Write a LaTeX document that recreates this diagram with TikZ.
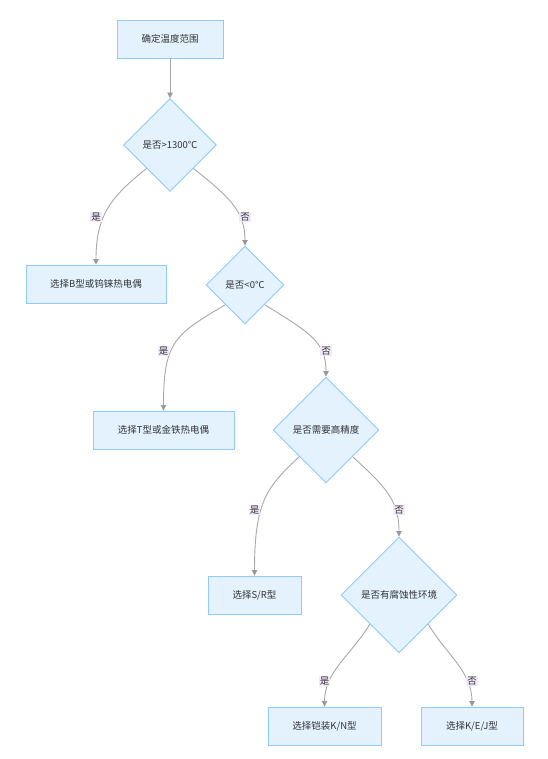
\documentclass[tikz,border=0pt]{standalone}
\usepackage{fontspec}
\setmainfont{Noto Sans CJK SC}
\usetikzlibrary{shapes.geometric,arrows.meta}
\definecolor{boxfill}{HTML}{E3F2FD}
\definecolor{boxline}{HTML}{90CAF9}
\definecolor{edgegray}{HTML}{A8A8A8}
\definecolor{tipgray}{HTML}{999999}
\definecolor{lblfill}{HTML}{F1E9FA}
\definecolor{txt}{HTML}{333333}
\begin{document}
\begin{tikzpicture}[x=1pt,y=-1pt,
  every node/.style={font=\fontsize{9.5}{11}\selectfont, text=txt},
  procbox/.style={rectangle, draw=boxline, fill=boxfill, line width=0.9pt, minimum height=38pt, inner sep=2pt},
  decision/.style={diamond, draw=boxline, fill=boxfill, line width=0.9pt, aspect=1, inner sep=1pt},
  edge/.style={draw=edgegray, line width=0.9pt, -{Triangle[width=5.5pt,length=5.5pt,fill=tipgray,color=tipgray]}},
  elabel/.style={fill=lblfill, inner sep=1pt}
]
\useasboundingbox (0,0) rectangle (547,759);
\fill[white] (0,0) rectangle (547,759);

\node[procbox, minimum width=106pt] (b0) at (170,39) {确定温度范围};
\node[decision, minimum size=93pt] (d1) at (170,145) {是否>1300℃};
\node[procbox, minimum width=140pt] (bB) at (96,284) {选择B型或钨铼热电偶};
\node[decision, minimum size=78pt] (d2) at (245,285) {是否<0℃};
\node[procbox, minimum width=141pt] (bT) at (163.5,430) {选择T型或金铁热电偶};
\node[decision, minimum size=106pt] (d3) at (326,430) {是否需要高精度};
\node[procbox, minimum width=93pt] (bSR) at (254.5,595) {选择S/R型};
\node[decision, minimum size=116pt] (d4) at (399,595) {是否有腐蚀性环境};
\node[procbox, minimum width=113pt] (bKN) at (324.5,726) {选择铠装K/N型};
\node[procbox, minimum width=102pt] (bKEJ) at (472,726) {选择K/E/J型};

\coordinate (m1) at (96,217);
\coordinate (m2) at (245,217);
\coordinate (m3) at (163.5,351);
\coordinate (m4) at (326,351);
\coordinate (m5) at (254.5,510);
\coordinate (m6) at (399,510);
\coordinate (m7) at (324.5,681);
\coordinate (m8) at (472,681);

\draw[edge] (b0.south) -- (d1.north);
\draw[edge] (d1.-135) .. controls +(-35,28) and +(0,-50) .. (bB.north);
\draw[edge] (d1.-45) .. controls +(35,28) and +(0,-35) .. (d2.north);
\draw[edge] (d2.-135) .. controls +(-50,30) and +(0,-70) .. (bT.north);
\draw[edge] (d2.-45) .. controls +(45,28) and +(0,-35) .. (d3.north);
\draw[edge] (d3.-135) .. controls +(-32,30) and +(0,-75) .. (bSR.north);
\draw[edge] (d3.-45) .. controls +(30,28) and +(0,-38) .. (d4.north);
\draw[edge] (d4.-135) .. controls +(-18,30) and +(0,-35) .. (bKN.north);
\draw[edge] (d4.-45) .. controls +(18,30) and +(0,-35) .. (bKEJ.north);

\node[elabel] (l1) at (m1) {是};
\node[elabel] (l2) at (m2) {否};
\node[elabel] (l3) at (m3) {是};
\node[elabel] (l4) at (m4) {否};
\node[elabel] (l5) at (m5) {是};
\node[elabel] (l6) at (m6) {否};
\node[elabel] (l7) at (m7) {是};
\node[elabel] (l8) at (m8) {否};
\end{tikzpicture}
\end{document}
